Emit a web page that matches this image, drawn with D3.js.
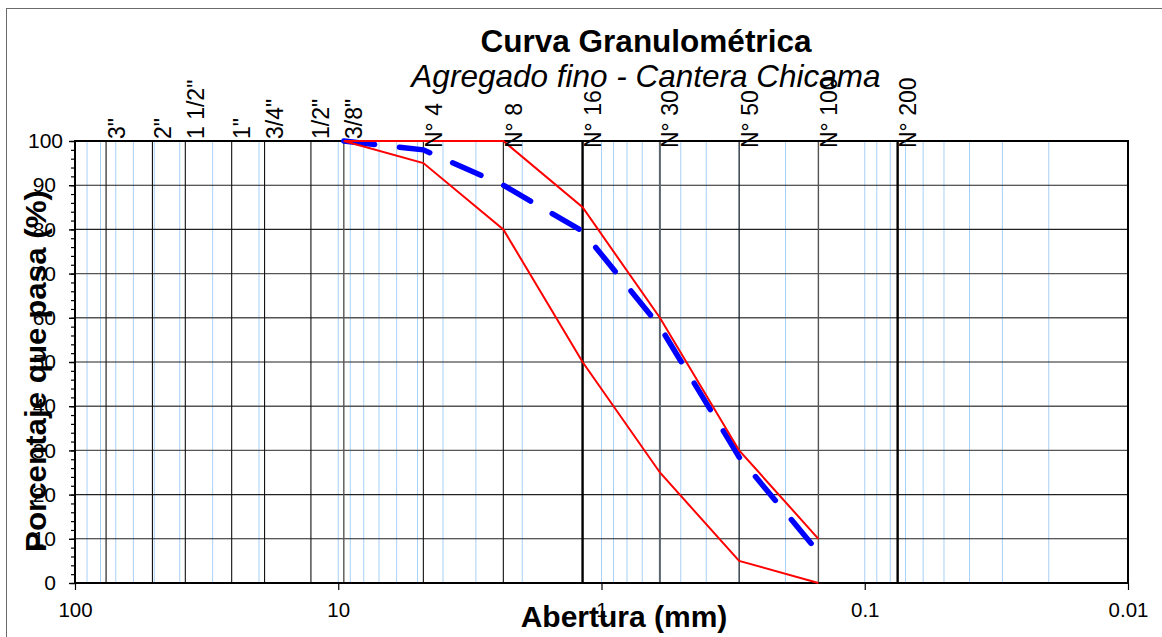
<!DOCTYPE html>
<html>
<head>
<meta charset="utf-8">
<script src="https://cdn.jsdelivr.net/npm/d3@7"></script>
<style>
  html, body { margin: 0; padding: 0; background: #fff; }
  svg { display: block; font-family: "Liberation Sans", Arial, sans-serif; }
</style>
</head>
<body>
<svg id="chart" width="1162" height="637"></svg>
<script>
// ---------------- data ----------------
const sieveLabels = ['3"', '2"', '1 1/2"', '1"', '3/4"', '1/2"', '3/8"', 'N° 4', 'N° 8', 'N° 16', 'N° 30', 'N° 50', 'N° 100', 'N° 200'];
const sieveSizes  = [76.2, 50.8, 38.1, 25.4, 19.05, 12.7, 9.525, 4.75, 2.36, 1.18, 0.6, 0.3, 0.15, 0.075];

const curveSizes = [9.525, 4.75, 2.36, 1.18, 0.6, 0.3, 0.15];
const upperLimit = [100, 100, 100, 85, 60, 30, 10];
const lowerLimit = [100, 95, 80, 50, 25, 5, 0];
const passing    = [100, 98, 90, 79.6, 58, 28.5, 7];

const xTicks = [100, 10, 1, 0.1, 0.01];
const xTickLabels = ['100', '10', '1', '0.1', '0.01'];
const yTicks = [0, 10, 20, 30, 40, 50, 60, 70, 80, 90, 100];
const yMinorTicks = d3.range(0, 101, 2);

const titleText = 'Curva Granulométrica';
const subtitleText = 'Agregado fino - Cantera Chicama';
const xTitle = 'Abertura (mm)';
const yTitle = 'Porcentaje que pasa (%)';

// ---------------- layout ----------------
const L = 75, R = 1128, T = 141, B = 583;
const svg = d3.select('#chart');

const x = d3.scaleLog().domain([100, 0.01]).range([L, R]);
const y = d3.scaleLinear().domain([0, 100]).range([B, T]);

svg.append('rect').attr('width', 1162).attr('height', 637).attr('fill', '#fff');
// outer chart frame
svg.append('rect').attr('x', 6.5).attr('y', 8.5).attr('width', 1200).attr('height', 700)
  .attr('fill', 'none').attr('stroke', '#6b6b6b').attr('stroke-width', 1);

// minor log grid (light blue)
const minorVals = [];
[-2, -1, 0, 1].forEach(k => { for (let m = 1; m <= 9; m++) minorVals.push(m * Math.pow(10, k)); });
svg.append('g').selectAll('line').data(minorVals).join('line')
  .attr('x1', d => x(d)).attr('x2', d => x(d))
  .attr('y1', T).attr('y2', B)
  .attr('stroke', '#a9d1f7').attr('stroke-width', 1);

// horizontal grid
svg.append('g').selectAll('line').data(yTicks.filter(d => d > 0 && d < 100)).join('line')
  .attr('x1', L).attr('x2', R)
  .attr('y1', d => y(d)).attr('y2', d => y(d))
  .attr('stroke', d => (d === 30 || d === 40 || d === 60 || d === 70) ? '#555' : '#222')
  .attr('stroke-width', d => (d === 30 || d === 40 || d === 60 || d === 70) ? 1.4 : 1.1);

// sieve lines
const sieveStyle = (lab) => {
  if (lab === 'N° 16' || lab === 'N° 200') return { c: '#000', w: 2.4 };
  if (lab === 'N° 30') return { c: '#5b6670', w: 2 };
  if (lab === 'N° 100' || lab === '3/8"') return { c: '#555', w: 1.4 };
  return { c: '#111', w: 1.1 };
};
svg.append('g').selectAll('line').data(sieveSizes).join('line')
  .attr('x1', d => x(d)).attr('x2', d => x(d))
  .attr('y1', T).attr('y2', B)
  .attr('stroke', (d, i) => sieveStyle(sieveLabels[i]).c)
  .attr('stroke-width', (d, i) => sieveStyle(sieveLabels[i]).w);

// plot frame
svg.append('rect').attr('x', L).attr('y', T).attr('width', R - L).attr('height', B - T)
  .attr('fill', 'none').attr('stroke', '#000').attr('stroke-width', 2);

// curves
const line = d3.line().x(d => x(d[0])).y(d => y(d[1]));
svg.append('path').datum(curveSizes.map((s, i) => [s, passing[i]]))
  .attr('d', line).attr('fill', 'none').attr('stroke', '#0000ff')
  .attr('stroke-width', 5.5).attr('stroke-dasharray', '31,25').attr('stroke-linecap', 'round');
[upperLimit, lowerLimit].forEach(arr => {
  svg.append('path').datum(curveSizes.map((s, i) => [s, arr[i]]))
    .attr('d', line).attr('fill', 'none').attr('stroke', '#ff0000').attr('stroke-width', 2);
});

// y axis
const yAxisMinor = svg.append('g').attr('transform', `translate(${L},0)`)
  .call(d3.axisLeft(y).tickValues(yMinorTicks).tickSize(4).tickFormat(''));
yAxisMinor.select('.domain').remove();
yAxisMinor.selectAll('line').attr('stroke', '#000').attr('stroke-width', 1.2);

const yAxis = svg.append('g').attr('transform', `translate(${L},0)`)
  .call(d3.axisLeft(y).tickValues(yTicks).tickSize(6).tickPadding(13));
yAxis.select('.domain').remove();
yAxis.selectAll('line').attr('stroke', '#000').attr('stroke-width', 1.4);
yAxis.selectAll('text')
  .attr('font-family', '"Liberation Sans", Arial, sans-serif')
  .attr('font-size', 21).attr('fill', '#000')
  .attr('dx', d => d === 100 ? 7 : 0);

// x axis
const xAxis = svg.append('g').attr('transform', `translate(0,${B})`)
  .call(d3.axisBottom(x).tickValues(xTicks).tickSize(7).tickPadding(12)
    .tickFormat((d, i) => xTickLabels[i]));
xAxis.select('.domain').remove();
xAxis.selectAll('line').attr('stroke', '#000').attr('stroke-width', 1.2);
xAxis.selectAll('text')
  .attr('font-family', '"Liberation Sans", Arial, sans-serif')
  .attr('font-size', 20.5).attr('fill', '#000');

// sieve labels (rotated)
svg.append('g').selectAll('text').data(sieveLabels).join('text')
  .attr('transform', (d, i) => `translate(${x(sieveSizes[i]) + 18.5},${d.startsWith('N') ? 148 : 139}) rotate(-90)`)
  .attr('font-size', 23).attr('fill', '#000')
  .text(d => d);

// titles
svg.append('text').attr('x', 646).attr('y', 52).attr('text-anchor', 'middle')
  .attr('font-size', 31.5).attr('font-weight', 'bold').text(titleText);
svg.append('text').attr('x', 646).attr('y', 87).attr('text-anchor', 'middle')
  .attr('font-size', 31.5).attr('font-style', 'italic').text(subtitleText);
svg.append('text').attr('x', 624).attr('y', 627).attr('text-anchor', 'middle')
  .attr('font-size', 30).attr('font-weight', 'bold').text(xTitle);
svg.append('text').attr('transform', 'translate(46,371) rotate(-90)').attr('text-anchor', 'middle')
  .attr('font-size', 30).attr('font-weight', 'bold')
  .attr('textLength', 362).attr('lengthAdjust', 'spacingAndGlyphs').text(yTitle);
</script>
</body>
</html>
